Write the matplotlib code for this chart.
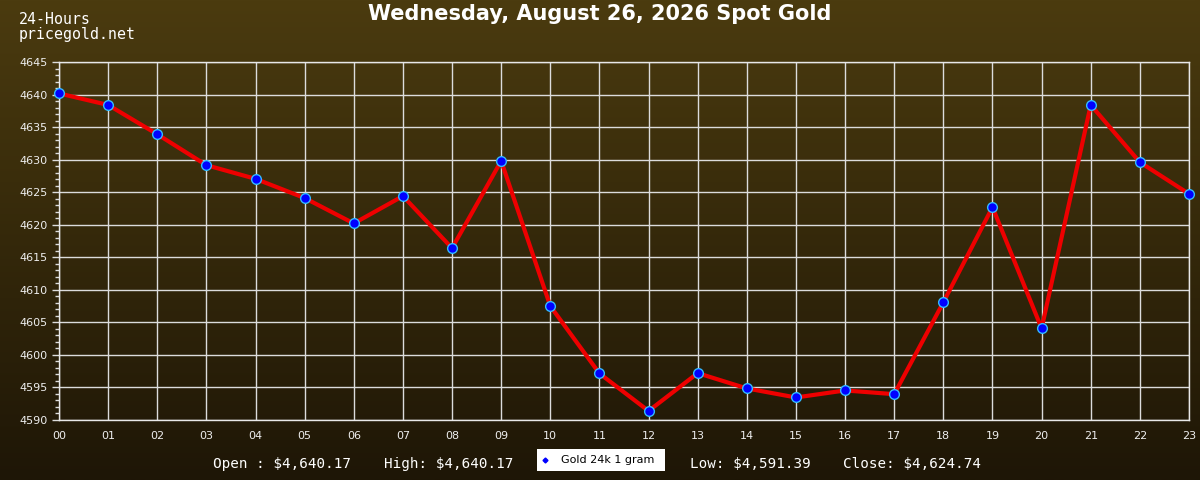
import numpy as np
import matplotlib
matplotlib.use("Agg")
import matplotlib.pyplot as plt
from matplotlib.ticker import MultipleLocator

hours = ["00", "01", "02", "03", "04", "05", "06", "07", "08", "09", "10", "11",
         "12", "13", "14", "15", "16", "17", "18", "19", "20", "21", "22", "23"]
prices = [4640.17, 4638.4, 4633.9, 4629.15, 4627.05, 4624.1, 4620.2, 4624.4,
          4616.4, 4629.8, 4607.5, 4597.15, 4591.39, 4597.2, 4594.85, 4593.46,
          4594.54, 4593.97, 4608.08, 4622.7, 4604.08, 4638.4, 4629.6, 4624.74]
title = "Wednesday, August 26, 2026 Spot Gold"
series_name = "Gold 24k 1 gram"
stats = ["Open : $4,640.17", "High: $4,640.17", "Low: $4,591.39", "Close: $4,624.74"]

W, H = 1200, 480
fig = plt.figure(figsize=(W / 100, H / 100), dpi=100)

# gradient background
bg = fig.add_axes([0, 0, 1, 1], zorder=-10)
top = np.array([0x4b, 0x3b, 0x0f]) / 255
bot = np.array([0x1e, 0x16, 0x06]) / 255
t = np.linspace(0, 1, 256)[:, None]
grad = top[None, :] * (1 - t) + bot[None, :] * t
bg.imshow(grad[:, None, :], aspect="auto", extent=[0, 1, 0, 1])
bg.set_axis_off()

ax = fig.add_axes([59 / W, (H - 420) / H, (1189 - 59) / W, (420 - 62) / H])
ax.set_facecolor("none")
x = np.arange(len(hours))
ax.plot(x, prices, color="#ee0000", lw=3.0, zorder=3, solid_joinstyle="round")
ax.plot(x, prices, ls="none", marker="o", ms=7, mfc="#0000ff", mec="#33bbff",
        mew=1.0, zorder=4, clip_on=False)

ax.set_xlim(0, 23)
ax.set_ylim(4590, 4645)
ax.set_xticks(x)
ax.set_xticklabels(hours)
ax.yaxis.set_major_locator(MultipleLocator(5))
ax.yaxis.set_minor_locator(MultipleLocator(1))
ax.grid(True, which="major", color="#dcdcdc", lw=1.0, zorder=1)
ax.tick_params(axis="x", length=0, pad=8, labelsize=8, labelcolor="#eeeeee")
ax.tick_params(axis="y", which="major", length=5, width=1, color="#dddddd",
               pad=3, labelsize=8, labelcolor="#eeeeee")
ax.tick_params(axis="y", which="minor", length=3, width=1, color="#dddddd")
for s in ax.spines.values():
    s.set_color("#e8e8e8")
    s.set_linewidth(1.0)

fig.text(600 / W, 1 - 14 / H, title, ha="center", va="center",
         fontsize=15, fontweight="bold", color="white", family="DejaVu Sans")
fig.text(19 / W, 1 - 19 / H, "24-Hours", ha="left", va="center",
         fontsize=10.7, color="white", family="DejaVu Sans Mono")
fig.text(19 / W, 1 - 34 / H, "pricegold.net", ha="left", va="center",
         fontsize=10.7, color="white", family="DejaVu Sans Mono")

ty = 1 - 464 / H
fig.text(213 / W, ty, stats[0], ha="left", va="center", fontsize=10.3,
         color="white", family="DejaVu Sans Mono")
fig.text(384 / W, ty, stats[1], ha="left", va="center", fontsize=10.3,
         color="white", family="DejaVu Sans Mono")
fig.text(690 / W, ty, stats[2], ha="left", va="center", fontsize=10.3,
         color="white", family="DejaVu Sans Mono")
fig.text(843 / W, ty, stats[3], ha="left", va="center", fontsize=10.3,
         color="white", family="DejaVu Sans Mono")

# legend box
lg = fig.add_axes([537 / W, (H - 471) / H, 128 / W, 22 / H])
lg.set_xlim(0, 128)
lg.set_ylim(0, 22)
lg.set_facecolor("white")
for s in lg.spines.values():
    s.set_visible(False)
lg.set_xticks([])
lg.set_yticks([])
lg.plot([8], [11], marker="D", ms=2.5, color="#0000ff", ls="none")
lg.text(24, 11, series_name, ha="left", va="center", fontsize=8, color="black")

fig.savefig("out.png", dpi=100)
